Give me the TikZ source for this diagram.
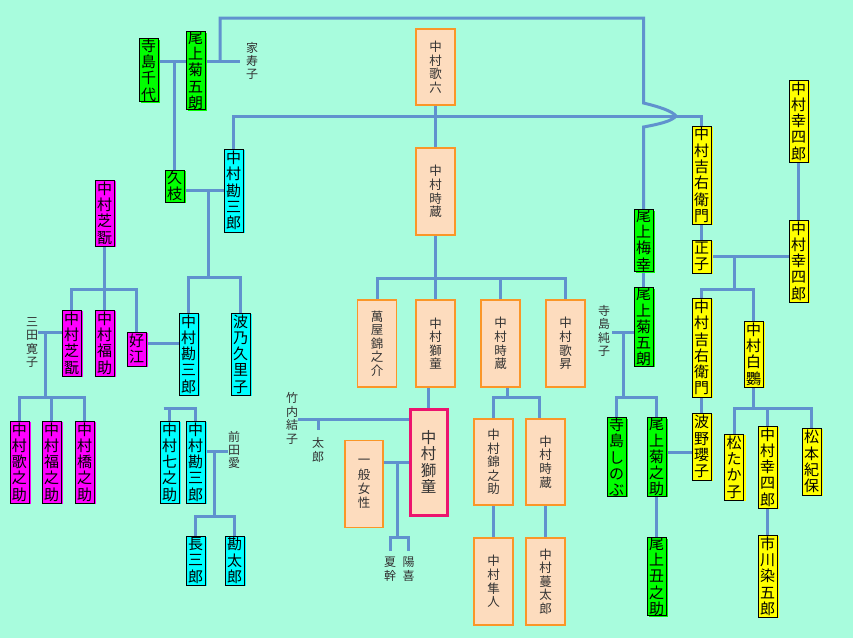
\documentclass[tikz,border=0pt]{standalone}
\usepackage{fontspec}
\setmainfont{Noto Sans CJK JP}
\usepackage{tikz}
\usetikzlibrary{calc,positioning,shadows}

\definecolor{kbg}{RGB}{168,252,221}
\definecolor{kline}{RGB}{96,146,206}
\definecolor{kpeach}{RGB}{253,220,190}
\definecolor{korange}{RGB}{250,150,40}
\definecolor{kred}{RGB}{236,20,110}
\definecolor{kgreen}{RGB}{0,255,0}
\definecolor{kcyan}{RGB}{0,255,255}
\definecolor{kpink}{RGB}{255,0,255}
\definecolor{kyellow}{RGB}{255,255,0}

\pgfdeclarelayer{back}
\pgfdeclarelayer{lines}
\pgfsetlayers{back,lines,main}

\tikzset{
    fambox/.style={draw=black, line width=0.9pt, inner sep=0pt, minimum width=19pt,
        align=center, font=\fontsize{15}{16.3}\selectfont},
    greenbox/.style={fambox, fill=kgreen, minimum height=#1,
        general shadow={fill=kgreen, shadow xshift=2.2pt, shadow yshift=-1.2pt}},
    cyanbox/.style={fambox, fill=kcyan, minimum height=#1,
        general shadow={fill=kcyan, shadow xshift=2.2pt, shadow yshift=-1.2pt}},
    pinkbox/.style={fambox, fill=kpink, minimum height=#1,
        general shadow={fill=kpink, shadow xshift=2.2pt, shadow yshift=-1.2pt}},
    yellowbox/.style={fambox, fill=kyellow, minimum height=#1,
        general shadow={fill=kyellow, shadow xshift=2.2pt, shadow yshift=-1.2pt}},
    orangebox/.style={draw=korange, line width=1.2pt, fill=kpeach, inner sep=0pt,
        minimum width=39pt, minimum height=#1, align=center, text=black!80,
        font=\fontsize{12.5}{13.6}\selectfont},
    plaintext/.style={inner sep=0pt, align=center, text=black!80,
        font=\fontsize{12}{13.4}\selectfont},
    famline/.style={draw=kline, line width=3pt}
}

\begin{document}
\begin{tikzpicture}[x=1pt,y=-1pt]

    \begin{pgfonlayer}{back}
        \fill[kbg] (0,0) rectangle (853,638);
    \end{pgfonlayer}
    \useasboundingbox (0,0) rectangle (853,638);

    %%onoe (left)
    \node[greenbox=62] (chiyo) at (148.5,70) {寺\\島\\千\\代};
    \node[greenbox=77] (kiku1) at (195.5,70.5) {尾\\上\\菊\\五\\朗};
        \node[plaintext] (iejuko) at (252,61) {家\\寿\\子};
    \node[greenbox=32] (hisae) at (174.5,186) {久\\枝};

    %%nakamura kanzaburo
    \node[cyanbox=83] (kan1) at (233.5,190.5) {中\\村\\勘\\三\\郎};
    \node[cyanbox=82] (kan2) at (188.5,354) {中\\村\\勘\\三\\郎};
    \node[cyanbox=82] (kuriko) at (240.5,354) {波\\乃\\久\\里\\子};
    \node[cyanbox=82] (shichi) at (169.5,462) {中\\村\\七\\之\\助};
    \node[cyanbox=82] (kan3) at (195.5,462) {中\\村\\勘\\三\\郎};
        \node[plaintext] (maeda) at (234,450) {前\\田\\愛};
    \node[cyanbox=49] (chosaburo) at (195.5,560.5) {長\\三\\郎};
    \node[cyanbox=49] (kantaro) at (234.5,560.5) {勘\\太\\郎};

    %%nakamura shikan
    \node[pinkbox=66] (shikan1) at (104.5,213) {中\\村\\芝\\翫};
    \node[pinkbox=66] (shikan2) at (71.5,343) {中\\村\\芝\\翫};
    \node[pinkbox=66] (fuku) at (104.5,343) {中\\村\\福\\助};
    \node[pinkbox=34] (yoshie) at (136.5,349) {好\\江};
        \node[plaintext] (mita) at (32,342.5) {三\\田\\寛\\子};
    \node[pinkbox=82] (utanosuke) at (19.5,462) {中\\村\\歌\\之\\助};
    \node[pinkbox=82] (fukunosuke) at (51.5,462) {中\\村\\福\\之\\助};
    \node[pinkbox=82] (hashinosuke) at (84.5,462) {中\\村\\橋\\之\\助};

    %%nakamura karoku
    \node[orangebox=76] (karoku) at (435.5,67) {中\\村\\歌\\六};
    \node[orangebox=87] (toki1) at (435.5,191.5) {中\\村\\時\\蔵};
    \node[orangebox=87] (yorozuya) at (377,343.5) {萬\\屋\\錦\\之\\介};
    \node[orangebox=87] (shido2) at (435.5,343.5) {中\\村\\獅\\童};
    \node[orangebox=87] (toki2) at (500.5,343.5) {中\\村\\時\\蔵};
    \node[orangebox=87] (kasho) at (565.5,343.5) {中\\村\\歌\\昇};
    \node[orangebox=86] (kinnosuke) at (493.5,462) {中\\村\\錦\\之\\助};
    \node[orangebox=86] (toki3) at (545.5,462) {中\\村\\時\\蔵};
    \node[orangebox=87] (hayato) at (493.5,581.5) {中\\村\\隼\\人};
    \node[orangebox=87] (mantaro) at (545.5,581.5) {中\\村\\蔓\\太\\郎};

    %%nakamura shido
    \node[draw=kred, line width=3pt, fill=kpeach, inner sep=0pt, minimum width=37pt,
        minimum height=106pt, align=center, text=black!80,
        font=\fontsize{15.5}{16.4}\selectfont] (shido3) at (428.5,462) {中\\村\\獅\\童};
    \node[orangebox=87, minimum width=38pt, font=\fontsize{12.5}{14.2}\selectfont]
        (ippan) at (364,484) {一\\般\\女\\性};
        \node[plaintext] (takeuchi) at (292,418.5) {竹\\内\\結\\子};
        \node[plaintext] (taro) at (318,450) {太\\郎};
        \node[plaintext] (natsuki) at (390,569) {夏\\幹};
        \node[plaintext] (haruki) at (408.5,569) {陽\\喜};

    %%onoe (right)
    \node[greenbox=61] (baiko) at (643.5,240.5) {尾\\上\\梅\\幸};
    \node[greenbox=76] (kiku2) at (643.5,327) {尾\\上\\菊\\五\\朗};
        \node[plaintext] (junko) at (604,331) {寺\\島\\純\\子};
    \node[greenbox=76] (shinobu) at (616.5,457) {寺\\島\\し\\の\\ぶ};
    \node[greenbox=76] (kikunosuke) at (656.5,457) {尾\\上\\菊\\之\\助};
    \node[greenbox=77] (ushinosuke) at (656.5,576.5) {尾\\上\\丑\\之\\助};

    %%nakamura kichiemon, koshiro
    \node[yellowbox=98] (kichi1) at (701.5,175) {中\\村\\吉\\右\\衛\\門};
    \node[yellowbox=33] (masako) at (701.5,256.5) {正\\子};
    \node[yellowbox=82] (koshiro1) at (798.5,121) {中\\村\\幸\\四\\郎};
    \node[yellowbox=82] (koshiro2) at (798.5,261) {中\\村\\幸\\四\\郎};
    \node[yellowbox=99] (kichi2) at (701.5,347.5) {中\\村\\吉\\右\\衛\\門};
    \node[yellowbox=66] (hakuo) at (753.5,354) {中\\村\\白\\鸚};
    \node[yellowbox=67] (yoko) at (701.5,446.5) {波\\野\\瓔\\子};
    \node[yellowbox=66] (taka) at (734,467) {松\\た\\か\\子};
    \node[yellowbox=82] (koshiro3) at (767.5,467) {中\\村\\幸\\四\\郎};
    \node[yellowbox=67] (kiho) at (811.5,461.5) {松\\本\\紀\\保};
    \node[yellowbox=82] (somegoro) at (767.5,576) {市\\川\\染\\五\\郎};

    \begin{pgfonlayer}{lines}
        %%top line
        \coordinate (kikuA) at (220,61);
        \draw[famline] (kiku1.east |- iejuko.west) -- ($(iejuko.west)+(-6,0)$);
        \draw[famline] (kan1.north) |- (kichi1.north |- 0,116) -- (kichi1.north);
        \draw[famline] (kikuA) |- (baiko.north |- 0,18) -- (baiko.north |- 0,103)
            .. controls (660,107) and (672,111) .. (676,116)
            .. controls (672,121) and (660,124) .. (baiko.north |- 0,127) -- (baiko.north);

        %%chiyo, kiku1
        \draw[famline] (chiyo.east |- iejuko.west) -- (kiku1.west |- iejuko.west);
        \draw[famline] (hisae.north |- iejuko.west) -- (hisae.north);

        %%hisae, kan1
        \coordinate (kanA) at (208,277);
        \draw[famline] (hisae.east |- kan1.west) -- (kan1.west);
        \draw[famline] (kanA |- kan1.west) -- (kanA);
        \draw[famline] (kan2.north) |- (kanA) -| (kuriko.north);

        %%karoku
        \coordinate (tokiA) at (435.5,278);
        \draw[famline] (karoku.south) -- (toki1.north);
        \draw[famline] (toki1.south) -- (tokiA);
        \draw[famline] (yorozuya.north) |- (tokiA) -| (kasho.north);
        \draw[famline] (shido2.north) -- (tokiA);
        \draw[famline] (toki2.north) -- (toki2.north |- tokiA);

        %%shikan
        \coordinate (shikanA) at (104.5,289);
        \draw[famline] (shikan1.south) -- (shikanA);
        \draw[famline] (shikan2.north) |- (shikanA) -| (yoshie.north);
        \draw[famline] (fuku.north) -- (shikanA);
        \draw[famline] (yoshie.east |- 0,343) -- (kan2.west |- 0,343);

        %%mita, shikan2
        \coordinate (mitaA) at (45,332);
        \coordinate (mitaB) at (45,397);
        \draw[famline] (mita.east |- mitaA) -- (shikan2.west |- mitaA);
        \draw[famline] (mitaA) -- (mitaB);
        \draw[famline] (utanosuke.north) |- (mitaB) -| (hashinosuke.north);
        \draw[famline] (fukunosuke.north) -- (fukunosuke.north |- mitaB);

        %%shichi, kan3
        \draw[famline] ($(shichi.north)+(-6,-12)$) -| (kan3.north);
        \draw[famline] (shichi.north) -- ++(0,-12);

        %%maeda, kan3
        \coordinate (maedaA) at (214,451);
        \coordinate (maedaB) at (214,516);
        \draw[famline] (kan3.east |- maedaA) -- (maeda.west |- maedaA);
        \draw[famline] (maedaA) -- (maedaB);
        \draw[famline] (chosaburo.north) |- (maedaB) -| (kantaro.north);

        %%takeuchi, shido3
        \coordinate (takeA) at (318,419);
        \draw[famline] (takeuchi.east |- takeA) -- (shido3.west |- takeA);
        \draw[famline] (takeA) -- ($(taro.north)+(0,-8)$);
        \draw[famline] (shido3.north) -- (shido3.north |- shido2.south);

        %%ippan, shido3
        \coordinate (ippanA) at (397,462);
        \coordinate (ippanB) at (397,537);
        \draw[famline] (ippan.east |- shido3.west) -- (shido3.west);
        \draw[famline] (ippanA) -- (ippanB);
        \draw[famline] ($(natsuki.north)+(0,-6)$) |- (ippanB) -| ($(haruki.north)+(0,-6)$);

        %%toki2
        \coordinate (toki2A) at (507,397);
        \draw[famline] (toki2A |- toki2.south) -- (toki2A);
        \draw[famline] (kinnosuke.north) |- (toki2A) -| ($(toki3.north)+(-6.5,0)$);
        \draw[famline] (kinnosuke.south) -- (hayato.north);
        \draw[famline] (toki3.south) -- (mantaro.north);

        %%baiko, kiku2
        \coordinate (junkoA) at (623,332);
        \coordinate (junkoB) at (623,397);
        \draw[famline] (baiko.south) -- (kiku2.north);
        \draw[famline] ($(junko.east |- junkoA)+(2,0)$) -- (kiku2.west |- junkoA);
        \draw[famline] (junkoA) -- (junkoB);
        \draw[famline] (shinobu.north) |- (junkoB) -| (kikunosuke.north);
        \draw[famline] (kikunosuke.south) -- (ushinosuke.north);
        \draw[famline] (kikunosuke.east |- 0,452) -- (yoko.west |- 0,452);

        %%kichi1, koshiro
        \coordinate (masakoA) at (734,256.5);
        \coordinate (masakoB) at (734,289);
        \draw[famline] (kichi1.south) -- (masako.north);
        \draw[famline] (masako.east) -- (koshiro2.west |- masako.east);
        \draw[famline] (koshiro1.south) -- (koshiro2.north);
        \draw[famline] (masakoA) -- (masakoB);
        \draw[famline] (kichi2.north) |- (masakoB) -| (hakuo.north);
        \draw[famline] (kichi2.south) -- (yoko.north);

        %%hakuo
        \coordinate (hakuoA) at (753.5,408);
        \draw[famline] (hakuo.south) -- (hakuoA);
        \draw[famline] (taka.north) |- (hakuoA) -| (kiho.north);
        \draw[famline] (koshiro3.north) -- (koshiro3.north |- hakuoA);
        \draw[famline] (koshiro3.south) -- (somegoro.north);
    \end{pgfonlayer}

\end{tikzpicture}
\end{document}
